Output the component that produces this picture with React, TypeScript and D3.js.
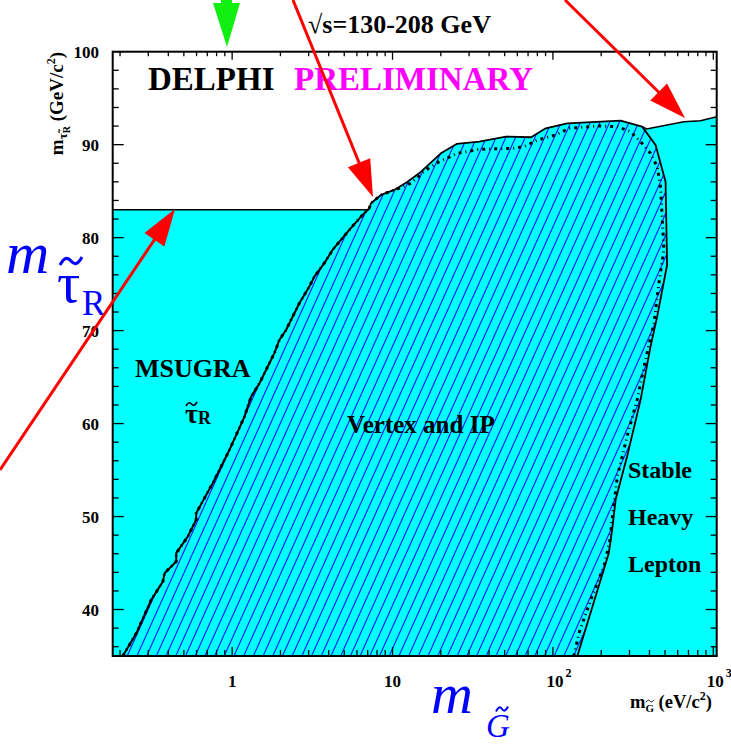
import React from "react";
import * as d3 from "d3";

type Pt = [number, number];

// Axis ranges: gravitino mass (eV/c^2, log) and stau mass (GeV/c^2)
const gravitinoMassRange: Pt = [0.18, 1050];
const stauMassRange: Pt = [35, 100];

// Direct stau search limit (GeV/c^2)
const directStauLimit = 83;

// mSUGRA-like boundary of the stau region (left edge of the hatched area)
const msugraBoundary: Pt[] = [
  [0.208, 35.0], [0.253, 37.46], [0.313, 41.04], [0.37, 43.0], [0.379, 43.9],
  [0.448, 45.16], [0.448, 46.06], [0.529, 47.85], [0.597, 49.65], [0.597, 50.37],
  [0.672, 51.98], [0.757, 53.59], [0.854, 55.38], [0.962, 57.17], [1.084, 59.14],
  [1.193, 60.75], [1.313, 62.9], [1.481, 64.34], [1.628, 65.77], [1.834, 67.57],
  [1.97, 69.0], [2.169, 70.07], [2.443, 71.87], [2.624, 72.95], [3.029, 74.73],
  [3.254, 75.8], [3.755, 77.25], [4.23, 78.68], [5.377, 80.83], [6.507, 82.44],
  [7.16, 83.16],
];

// Observed limit from the vertex / impact-parameter searches
const vertexIpLimit: Pt[] = [
  [7.16, 83.16], [7.34, 83.7], [8.47, 84.59], [10.25, 85.13], [12.4, 86.02],
  [14.66, 86.92], [20.02, 89.07], [25.1, 90.08], [34.7, 90.32], [51.0, 90.86],
  [73.1, 90.8], [90.2, 91.76], [123, 92.3], [264, 92.58], [360, 91.94],
  [436.5, 89.97], [504, 86.02], [515, 77.06], [446.7, 71.5], [406, 68.28],
  [352, 62.55], [290, 56.45], [246, 51.8], [234, 48.57], [223, 46.06], [142, 35.0],
];

// Stable heavy lepton search limit
const stableLeptonLimit: Pt[] = [
  [360, 91.94], [384, 91.69], [655, 92.47], [832, 92.58], [1050, 93.0],
];

// Expected limit (dotted)
const expectedLimit: Pt[] = [
  [7.34, 83.7], [8.47, 84.59], [10.25, 85.13], [11.1, 85.34], [13.02, 85.85],
  [16.14, 87.28], [19.54, 88.17], [25.4, 89.07], [34.7, 89.5], [55.9, 89.61],
  [66.1, 89.78], [80, 90.5], [104, 91.04], [126, 91.76], [189, 92.01],
  [252, 91.94], [305, 91.4], [352, 90.32], [406, 89.08], [447, 87.63],
  [469, 85.48], [480, 82.26], [492, 78.68], [458, 75.1], [427, 70.8],
  [378, 66.85], [335, 62.55], [290, 58.6], [252, 54.3], [234, 49.65],
  [227, 47.5], [208, 44.62], [172, 41.04], [145.5, 37.46], [135, 35.0],
];

const xMajorTicks = [1, 10, 100, 1000];
const xTickBase = ["1", "10", "10", "10"];
const xTickExponent = ["", "", "2", "3"];
const yMajorTicks = [40, 50, 60, 70, 80, 90, 100];

const FONT = "'Liberation Serif', 'Times New Roman', serif";

function arrowHead(x1: number, y1: number, x2: number, y2: number, len: number, w: number) {
  const dx = x2 - x1, dy = y2 - y1;
  const L = Math.hypot(dx, dy);
  const ux = dx / L, uy = dy / L;
  const bx = x2 - ux * len, by = y2 - uy * len;
  const px = -uy * (w / 2), py = ux * (w / 2);
  return `${x2},${y2} ${bx + px},${by + py} ${bx - px},${by - py}`;
}

function tildePath(x0: number, y0: number, w: number, h: number) {
  return `M${x0},${y0 + h / 2} C${x0 + w * 0.2},${y0 - h / 2} ${x0 + w * 0.35},${y0 - h / 2} ${x0 + w * 0.5},${y0} S${x0 + w * 0.8},${y0 + h / 2} ${x0 + w},${y0 - h / 2}`;
}

export default function App() {
  const left = 112.7, right = 716.7, top = 51.7, bottom = 656;
  const x = d3.scaleLog().domain(gravitinoMassRange).range([left, right]);
  const y = d3.scaleLinear().domain(stauMassRange).range([bottom, top]);
  const line = d3.line<Pt>().x((d) => x(d[0])).y((d) => y(d[1]));
  const [xMin, xMax] = gravitinoMassRange;
  const [yMin, yMax] = stauMassRange;

  const msugraEnd = msugraBoundary[msugraBoundary.length - 1];
  const joinIdx = vertexIpLimit.findIndex(
    (p) => p[0] === stableLeptonLimit[0][0] && p[1] === stableLeptonLimit[0][1]
  );
  const cyanOutline: Pt[] = [
    [xMin, yMin],
    [xMin, directStauLimit],
    [msugraEnd[0], directStauLimit],
    ...vertexIpLimit.slice(0, joinIdx + 1),
    ...stableLeptonLimit.slice(1),
    [xMax, yMin],
  ];
  const hatchOutline: Pt[] = [...msugraBoundary, ...vertexIpLimit.slice(1)];
  const plateau: Pt[] = [[xMin, directStauLimit], [msugraEnd[0], directStauLimit]];
  const expectedPath: Pt[] = [...msugraBoundary, ...expectedLimit];

  const xMinor: number[] = [];
  for (const dec of [0.1, 1, 10, 100]) {
    for (let k = 2; k <= 9; k++) {
      const v = k * dec;
      if (v >= xMin && v <= xMax) xMinor.push(v);
    }
  }
  const yMinor = d3.range(36, yMax, 2).filter((v) => v % 10 !== 0);

  const red = "#ff0000";
  const blue = "#0000ff";
  const redArrows = [
    { x1: 0, y1: 470, x2: 175, y2: 209 },
    { x1: 293, y1: 0, x2: 373, y2: 197 },
    { x1: 565, y1: 0, x2: 685, y2: 118 },
  ];

  return (
    <div style={{ position: "absolute", left: 0, top: 0 }}>
      <svg width={731} height={747} style={{ display: "block", fontFamily: FONT }}>
        <defs>
          <clipPath id="plotArea">
            <rect x={left} y={top} width={right - left} height={bottom - top} />
          </clipPath>
          <pattern
            id="hatch"
            patternUnits="userSpaceOnUse"
            width={8.85}
            height={20}
            patternTransform="rotate(24.2)"
          >
            <line x1={4.4} y1={-2} x2={4.4} y2={22} stroke={blue} strokeWidth={1.05} />
          </pattern>
        </defs>
        <rect width={731} height={747} fill="#ffffff" />

        <g clipPath="url(#plotArea)">
          <path d={line(cyanOutline) + "Z"} fill="#00ffff" />
          <path d={line(hatchOutline) + "Z"} fill="url(#hatch)" />
          <path d={line(plateau)!} fill="none" stroke="#000" strokeWidth={1.6} />
          <path d={line(vertexIpLimit)!} fill="none" stroke="#000" strokeWidth={1.8} strokeLinejoin="round" />
          <path d={line(stableLeptonLimit)!} fill="none" stroke="#000" strokeWidth={1.6} />
          <path d={line(msugraBoundary)!} fill="none" stroke="#000" strokeWidth={2} />
          <path
            d={line(expectedPath)!}
            fill="none"
            stroke="#000"
            strokeWidth={3}
            strokeDasharray="3 4 1 4"
          />
        </g>

        {/* frame and ticks */}
        <rect x={left} y={top} width={right - left} height={bottom - top} fill="none" stroke="#000" strokeWidth={2} />
        <g stroke="#000" strokeWidth={1.3}>
          {xMajorTicks.map((v) => (
            <g key={"xM" + v}>
              <line x1={x(v)} x2={x(v)} y1={bottom} y2={bottom - 9} />
              <line x1={x(v)} x2={x(v)} y1={top} y2={top + 8} />
            </g>
          ))}
          {xMinor.map((v) => (
            <g key={"xm" + v}>
              <line x1={x(v)} x2={x(v)} y1={bottom} y2={bottom - 6} />
              <line x1={x(v)} x2={x(v)} y1={top} y2={top + 4.5} />
            </g>
          ))}
          {yMajorTicks.map((v) => (
            <g key={"yM" + v}>
              <line x1={left} x2={left + 11} y1={y(v)} y2={y(v)} />
              <line x1={right} x2={right - 11} y1={y(v)} y2={y(v)} />
            </g>
          ))}
          {yMinor.map((v) => (
            <g key={"ym" + v}>
              <line x1={left} x2={left + 6} y1={y(v)} y2={y(v)} />
              <line x1={right} x2={right - 6} y1={y(v)} y2={y(v)} />
            </g>
          ))}
        </g>

        {/* tick labels */}
        <g fontWeight="bold" fontSize={17} fill="#000">
          {yMajorTicks.map((v) => (
            <text key={"yl" + v} x={99} y={y(v) + 6} textAnchor="end">
              {v}
            </text>
          ))}
          {xMajorTicks.map((v, i) => (
            <text key={"xl" + v} x={x(v) + (xTickExponent[i] ? 6 : 0)} y={687} textAnchor="middle">
              {xTickBase[i]}
              {xTickExponent[i] && (
                <tspan fontSize={12} dy={-10} dx={2}>
                  {xTickExponent[i]}
                </tspan>
              )}
            </text>
          ))}
        </g>

        {/* axis titles */}
        <g transform="translate(63,52) rotate(-90)">
          <text textAnchor="end" fontSize={19} fontWeight="bold">
            m
            <tspan fontSize={13} dy={4}>τ̃</tspan>
            <tspan fontSize={10} dy={3}>R</tspan>
            <tspan fontSize={19} dy={-7}> (GeV/c</tspan>
            <tspan fontSize={12} dy={-8}>2</tspan>
            <tspan fontSize={19} dy={8}>)</tspan>
          </text>
        </g>
        <text x={630} y={708} fontSize={18.5} fontWeight="bold">
          m
          <tspan fontSize={11} dy={4}>G</tspan>
          <tspan fontSize={18.5} dy={-4}> (eV/c</tspan>
          <tspan fontSize={12} dy={-8}>2</tspan>
          <tspan fontSize={18.5} dy={8}>)</tspan>
        </text>
        <path d={tildePath(646, 701, 8, 2.5)} fill="none" stroke="#000" strokeWidth={1} />

        {/* headings */}
        <text x={308} y={33} fontSize={26} fontWeight="bold">√s=130-208 GeV</text>
        <text x={148} y={90} fontSize={33} fontWeight="bold" fill="#000">DELPHI</text>
        <text x={294} y={90} fontSize={33} fontWeight="bold" fill="#ff00ff">PRELIMINARY</text>

        {/* region labels */}
        <g fontWeight="bold" fill="#000">
          <text x={135} y={377} fontSize={26}>MSUGRA</text>
          <text x={185} y={423} fontSize={28}>τ</text>
          <path d={tildePath(186, 404, 11, 4)} fill="none" stroke="#000" strokeWidth={1.6} />
          <text x={198} y={424} fontSize={18}>R</text>
          <text x={347} y={433} fontSize={25}>Vertex and IP</text>
          <text x={628} y={478} fontSize={24}>Stable</text>
          <text x={628} y={525} fontSize={24}>Heavy</text>
          <text x={628} y={572} fontSize={24}>Lepton</text>
        </g>

        {/* large blue axis symbols */}
        <g fill={blue}>
          <text x={6} y={273} fontSize={60} fontStyle="italic">m</text>
          <text x={57} y={302} fontSize={58}>τ</text>
          <path d={tildePath(60, 261, 22, 8)} fill="none" stroke={blue} strokeWidth={3} />
          <text x={82} y={315} fontSize={35}>R</text>
          <text x={431} y={713} fontSize={58} fontStyle="italic">m</text>
          <text x={486} y={737} fontSize={33} fontStyle="italic">G</text>
          <path d={tildePath(496, 709, 12, 5)} fill="none" stroke={blue} strokeWidth={2} />
        </g>

        {/* annotation arrows */}
        {redArrows.map((a, i) => {
          const L = Math.hypot(a.x2 - a.x1, a.y2 - a.y1);
          const k = (L - 30) / L;
          return (
            <g key={"arr" + i}>
              <line
                x1={a.x1}
                y1={a.y1}
                x2={a.x1 + (a.x2 - a.x1) * k}
                y2={a.y1 + (a.y2 - a.y1) * k}
                stroke={red}
                strokeWidth={3}
              />
              <polygon points={arrowHead(a.x1, a.y1, a.x2, a.y2, 37, 24)} fill={red} />
            </g>
          );
        })}
        <rect x={221} y={0} width={11} height={4} fill="#11ee11" />
        <polygon points="213,3 240,3 227,47" fill="#11ee11" />
      </svg>
    </div>
  );
}
